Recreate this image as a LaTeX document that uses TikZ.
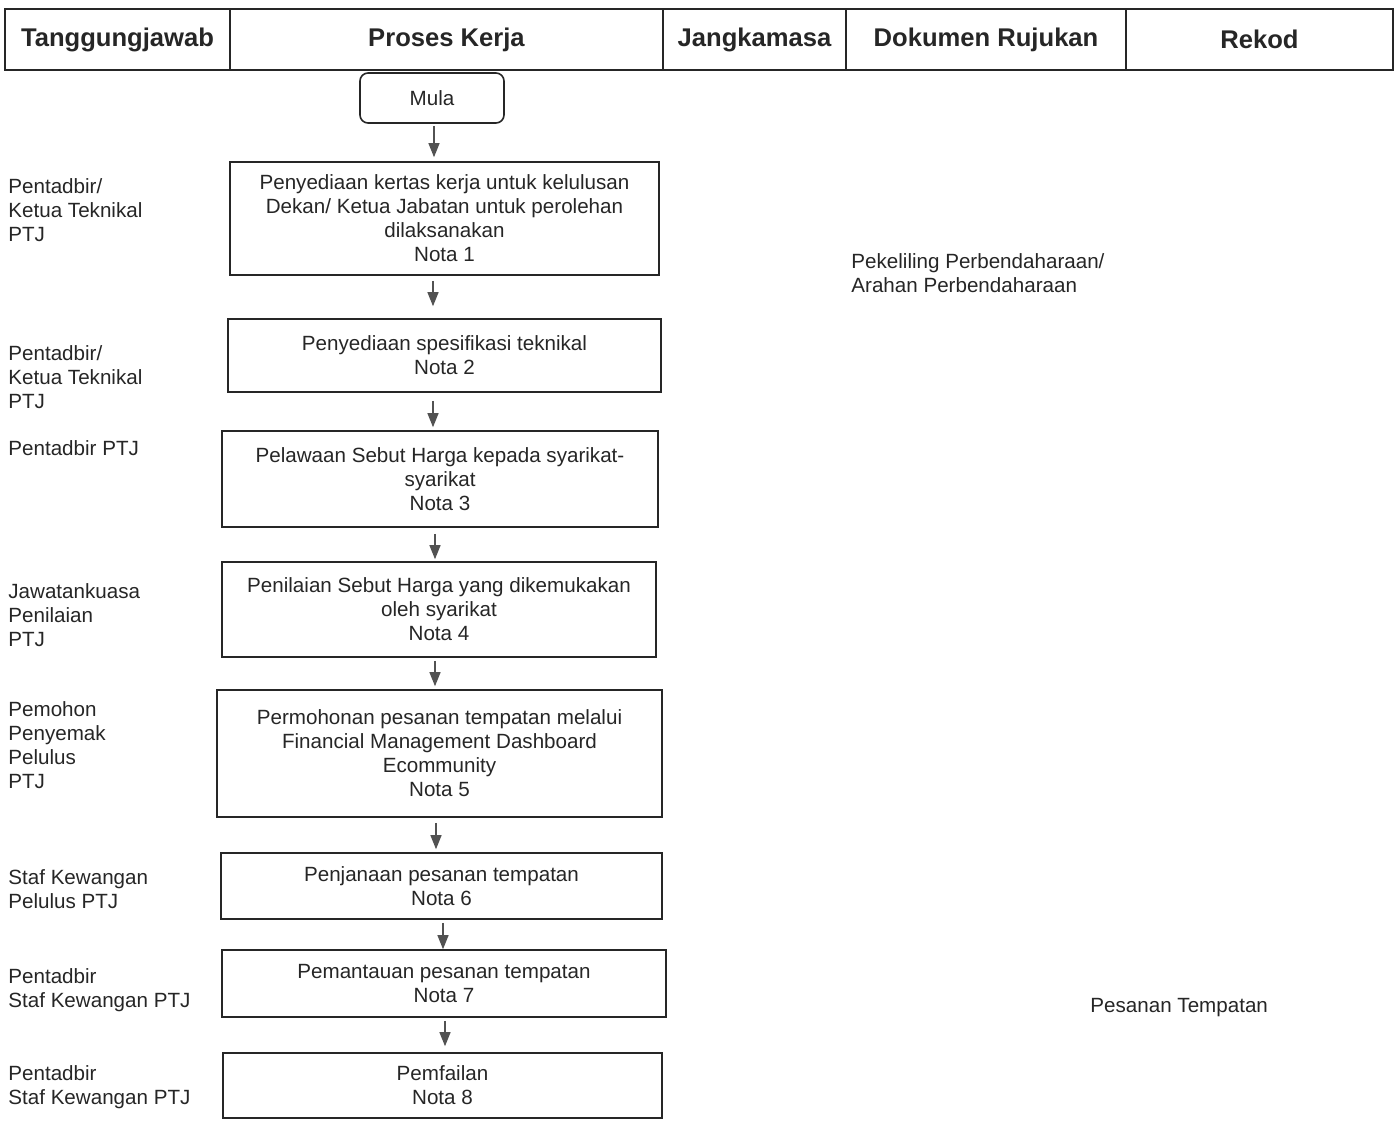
\documentclass[tikz,border=0pt]{standalone}
\usepackage{fontspec}
\setmainfont{Liberation Sans}
\usetikzlibrary{arrows.meta}

\definecolor{ink}{gray}{0.15}

\begin{document}
\begin{tikzpicture}[x=0.5pt,y=-0.5pt,
	every node/.style={text=ink, font=\fontsize{10.3}{12}\selectfont},
	hcell/.style={draw=ink, line width=0.6pt, minimum height=30.5pt, inner sep=0pt, font=\fontsize{12.8}{14}\selectfont\bfseries},
	procbox/.style={draw=ink, line width=0.8pt, align=center, inner sep=0pt},
	role/.style={anchor=north west, align=left, inner sep=0pt},
	arr/.style={draw=ink!80, line width=0.6pt, -{Triangle[length=7pt,width=5.5pt]}}]
	\useasboundingbox (0,0) rectangle (1400,1120);

	% header row
	\node[hcell, minimum width=112.5pt] (tang) at (117.5,39.5) {Tanggungjawab};
	\node[hcell, minimum width=216.5pt] (proses) at (446.5,39.5) {Proses Kerja};
	\node[hcell, minimum width=91.5pt] (jangka) at (754.5,39.5) {Jangkamasa};
	\node[hcell, minimum width=140pt] (dokumen) at (986,39.5) {Dokumen Rujukan};
	\node[hcell, minimum width=133.5pt] (rekod) at (1259.5,39.5) {Rekod};

	% process boxes
	\node[procbox, rounded corners=4pt, minimum width=72pt, minimum height=25pt] (mula) at (432,98) {Mula};
	\node[procbox, minimum width=214.5pt, minimum height=56.5pt] (b1) at (444.5,218.5) {Penyediaan kertas kerja untuk kelulusan\\Dekan/ Ketua Jabatan untuk perolehan\\dilaksanakan\\Nota 1};
	\node[procbox, minimum width=216.5pt, minimum height=36.5pt] (b2) at (444.5,355.5) {Penyediaan spesifikasi teknikal\\Nota 2};
	\node[procbox, minimum width=218pt, minimum height=48pt] (b3) at (440,479) {Pelawaan Sebut Harga kepada syarikat-\\syarikat\\Nota 3};
	\node[procbox, minimum width=217pt, minimum height=47.5pt] (b4) at (439,609.5) {Penilaian Sebut Harga yang dikemukakan\\oleh syarikat\\Nota 4};
	\node[procbox, minimum width=222.5pt, minimum height=63.5pt] (b5) at (439.5,753.5) {Permohonan pesanan tempatan melalui\\Financial Management Dashboard\\Ecommunity\\Nota 5};
	\node[procbox, minimum width=220.5pt, minimum height=33pt] (b6) at (441.5,886) {Penjanaan pesanan tempatan\\Nota 6};
	\node[procbox, minimum width=222pt, minimum height=33.5pt] (b7) at (444,983.5) {Pemantauan pesanan tempatan\\Nota 7};
	\node[procbox, minimum width=219.5pt, minimum height=32.5pt] (b8) at (442.5,1085.5) {Pemfailan\\Nota 8};

	% arrows
	\foreach \a/\b/\dx/\s/\e in {mula/b1/1pt/1pt/2pt, b1/b2/-5.75pt/2.5pt/6pt, b2/b3/-5.75pt/4pt/1.5pt, b3/b4/-2.5pt/3pt/1pt, b4/b5/-2pt/1.5pt/1.5pt, b5/b6/-1.75pt/2.5pt/1.5pt, b6/b7/0.75pt/1.5pt/0pt, b7/b8/0.5pt/1.5pt/3pt}
		\draw[arr, shorten <=\s, shorten >=\e] ([xshift=\dx]\a.south) -- ([xshift=\dx]\a.south |- \b.north);

	% responsibility column
	\node[role] (r1) at (8,178) {Pentadbir/\\Ketua Teknikal\\PTJ};
	\node[role] (r2) at (8,345) {Pentadbir/\\Ketua Teknikal\\PTJ};
	\node[role] (r3) at (8,440) {Pentadbir PTJ};
	\node[role] (r4) at (8,583) {Jawatankuasa\\Penilaian\\PTJ};
	\node[role] (r5) at (8,701) {Pemohon\\Penyemak\\Pelulus\\PTJ};
	\node[role] (r6) at (8,869) {Staf Kewangan\\Pelulus PTJ};
	\node[role] (r7) at (8,968) {Pentadbir\\Staf Kewangan PTJ};
	\node[role] (r8) at (8,1065) {Pentadbir\\Staf Kewangan PTJ};

	% documents and records
	\node[role] (ref1) at (851,253) {Pekeliling Perbendaharaan/\\Arahan Perbendaharaan};
	\node[role] (rek1) at (1090,998) {Pesanan Tempatan};
\end{tikzpicture}
\end{document}
